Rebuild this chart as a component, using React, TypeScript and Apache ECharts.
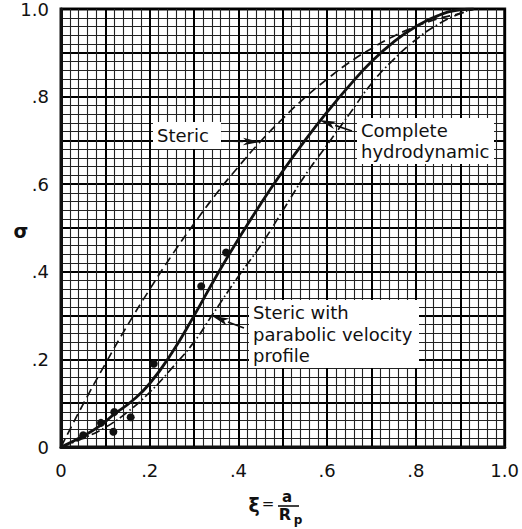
import React, { useEffect, useRef } from "react";
import * as echarts from "echarts";

// Steric (dashed)
const xiSteric = [0, 0.05, 0.1, 0.15, 0.2, 0.25, 0.3, 0.35, 0.4, 0.45, 0.5, 0.55, 0.6, 0.65, 0.7, 0.75, 0.8, 0.85, 0.9, 0.93];
const sigmaSteric = [0, 0.098, 0.19, 0.278, 0.36, 0.438, 0.51, 0.578, 0.64, 0.698, 0.75, 0.798, 0.84, 0.878, 0.91, 0.938, 0.96, 0.978, 0.99, 1.0];

// Complete hydrodynamic (solid)
const xiComplete = [0, 0.05, 0.09, 0.12, 0.16, 0.2, 0.25, 0.3, 0.35, 0.4, 0.45, 0.5, 0.55, 0.6, 0.65, 0.7, 0.75, 0.8, 0.85, 0.9, 0.93];
const sigmaComplete = [0, 0.025, 0.05, 0.075, 0.105, 0.145, 0.215, 0.3, 0.39, 0.475, 0.555, 0.63, 0.7, 0.765, 0.825, 0.88, 0.925, 0.96, 0.985, 0.998, 1.0];

// Steric with parabolic velocity profile (dash-dot)
const xiParabolic = [0, 0.05, 0.1, 0.15, 0.2, 0.25, 0.3, 0.34, 0.4, 0.45, 0.5, 0.55, 0.6, 0.65, 0.7, 0.75, 0.8, 0.85, 0.9, 0.93];
const sigmaParabolic = [0, 0.02, 0.045, 0.08, 0.125, 0.18, 0.24, 0.3, 0.39, 0.46, 0.54, 0.62, 0.69, 0.76, 0.83, 0.885, 0.93, 0.965, 0.99, 1.0];

// Experimental points
const xiPoints = [0.05, 0.09, 0.12, 0.118, 0.157, 0.209, 0.316, 0.372];
const sigmaPoints = [0.027, 0.055, 0.08, 0.035, 0.068, 0.19, 0.367, 0.444];

const xTickLabels = ["0", ".2", ".4", ".6", ".8", "1.0"];
const yTickLabels = ["0", ".2", ".4", ".6", ".8", "1.0"];

const FONT = "DejaVu Sans";
const INK = "#111";

function zip(a: number[], b: number[]) {
  return a.map((v, i) => [v, b[i]]);
}

function tickLabel(labels: string[]) {
  return (v: number) => {
    const k = Math.round(v * 10);
    if (k % 2 !== 0) return "";
    return labels[k / 2] ?? "";
  };
}

function arrow(x1: number, y1: number, x2: number, y2: number) {
  const ang = Math.atan2(y2 - y1, x2 - x1);
  const L = 17;
  const W = 3.8;
  const bx = x2 - L * Math.cos(ang);
  const by = y2 - L * Math.sin(ang);
  const px = -Math.sin(ang) * W;
  const py = Math.cos(ang) * W;
  return [
    {
      type: "line",
      z: 100,
      shape: { x1, y1, x2: bx, y2: by },
      style: { stroke: INK, lineWidth: 1.6 },
    },
    {
      type: "polygon",
      z: 100,
      shape: {
        points: [
          [x2, y2],
          [bx + px, by + py],
          [bx + L * 0.25 * Math.cos(ang), by + L * 0.25 * Math.sin(ang)],
          [bx - px, by - py],
        ],
      },
      style: { fill: INK },
    },
  ];
}

function box(x: number, y: number, w: number, h: number, lines: string[], lh: number) {
  const els: any[] = [
    { type: "rect", z: 99, shape: { x, y, width: w, height: h }, style: { fill: "#fff" } },
  ];
  lines.forEach((t, i) => {
    els.push({
      type: "text",
      z: 101,
      x: x + 4,
      y: y + 2 + i * lh + lh / 2,
      style: { text: t, fill: INK, font: `18px "${FONT}"`, textVerticalAlign: "middle", textAlign: "left" },
    });
  });
  return els;
}

export default function App() {
  const ref = useRef<HTMLDivElement>(null);
  useEffect(() => {
    if (!ref.current) return;
    const chart = echarts.init(ref.current, undefined, { renderer: "svg" });
    const axisCommon = {
      type: "value",
      min: 0,
      max: 1,
      interval: 0.1,
      axisLine: { show: true, lineStyle: { color: INK, width: 3 } },
      axisTick: { show: false },
      splitLine: { show: true, lineStyle: { color: "#000", width: 2 } },
      minorTick: { show: false, splitNumber: 5 },
      minorSplitLine: { show: true, lineStyle: { color: "#222", width: 1.1 } },
    };
    const lineCommon = {
      type: "line",
      smooth: 0.5,
      showSymbol: false,
      symbol: "none",
    };
    chart.setOption({
      animation: false,
      backgroundColor: "#fff",
      grid: {
        left: 61,
        top: 8,
        width: 446,
        height: 439,
        show: true,
        borderColor: INK,
        borderWidth: 3,
        backgroundColor: "#fff",
      },
      xAxis: {
        ...axisCommon,
        axisLabel: {
          formatter: tickLabel(xTickLabels),
          color: INK,
          fontFamily: FONT,
          fontSize: 18,
          margin: 14,
          showMinLabel: true,
          showMaxLabel: true,
        },
      },
      yAxis: {
        ...axisCommon,
        axisLabel: {
          formatter: tickLabel(yTickLabels),
          color: INK,
          fontFamily: FONT,
          fontSize: 18,
          margin: 12,
          showMinLabel: true,
          showMaxLabel: true,
        },
      },
      series: [
        {
          ...lineCommon,
          name: "Steric",
          data: zip(xiSteric, sigmaSteric),
          lineStyle: { color: INK, width: 1.7, type: [9, 5] },
          z: 5,
        },
        {
          ...lineCommon,
          name: "Complete hydrodynamic",
          data: zip(xiComplete, sigmaComplete),
          lineStyle: { color: INK, width: 2.8 },
          z: 6,
        },
        {
          ...lineCommon,
          name: "Steric with parabolic velocity profile",
          data: zip(xiParabolic, sigmaParabolic),
          lineStyle: { color: INK, width: 1.7, type: [9, 3, 1.5, 3] },
          z: 5,
        },
        {
          name: "Data",
          type: "scatter",
          data: zip(xiPoints, sigmaPoints),
          symbol: "circle",
          symbolSize: 8,
          itemStyle: { color: INK, opacity: 1 },
          z: 7,
        },
      ],
      graphic: [
        ...box(153, 122, 68, 27, ["Steric"], 22),
        ...arrow(222, 141, 260, 142),
        ...box(357, 118, 137, 46, ["Complete", "hydrodynamic"], 21),
        ...arrow(352, 131, 319, 120),
        ...box(249, 300, 170, 68, ["Steric with", "parabolic velocity", "profile"], 21.5),
        ...arrow(244, 328, 212, 316),
        {
          type: "text",
          x: 21,
          y: 231,
          style: { text: "σ", fill: INK, font: `bold 19px "${FONT}"`, textAlign: "center", textVerticalAlign: "middle" },
        },
        {
          type: "text",
          x: 254,
          y: 505,
          style: { text: "ξ", fill: INK, font: `bold 19px "${FONT}"`, textAlign: "center", textVerticalAlign: "middle" },
        },
        {
          type: "text",
          x: 268,
          y: 504,
          style: { text: "=", fill: INK, font: `15px "${FONT}"`, textAlign: "center", textVerticalAlign: "middle" },
        },
        {
          type: "text",
          x: 287,
          y: 497,
          style: { text: "a", fill: INK, font: `bold 15px "${FONT}"`, textAlign: "center", textVerticalAlign: "middle" },
        },
        {
          type: "line",
          shape: { x1: 278, y1: 506, x2: 299, y2: 506 },
          style: { stroke: INK, lineWidth: 1.6 },
        },
        {
          type: "text",
          x: 285,
          y: 514,
          style: { text: "R", fill: INK, font: `bold 16px "${FONT}"`, textAlign: "center", textVerticalAlign: "middle" },
        },
        {
          type: "text",
          x: 298,
          y: 520,
          style: { text: "p", fill: INK, font: `bold 12px "${FONT}"`, textAlign: "center", textVerticalAlign: "middle" },
        },
      ],
    });
    return () => chart.dispose();
  }, []);
  return (
    <div
      ref={ref}
      style={{ position: "fixed", left: 0, top: 0, width: 522, height: 529, background: "#fff" }}
    />
  );
}
